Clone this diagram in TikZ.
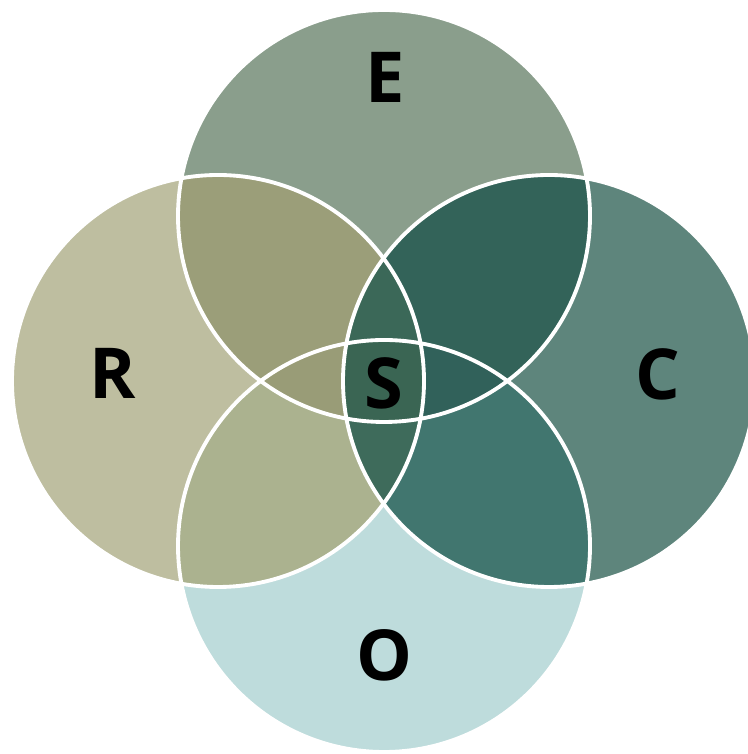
\documentclass[tikz,border=0pt]{standalone}
\usepackage{fontspec}
\setmainfont{Open Sans}
\definecolor{colE}{HTML}{8A9E8C}
\definecolor{colR}{HTML}{BEBEA0}
\definecolor{colC}{HTML}{5E857C}
\definecolor{colO}{HTML}{BEDCDC}
\definecolor{colER}{HTML}{9B9E79}
\definecolor{colEC}{HTML}{336359}
\definecolor{colRO}{HTML}{ABB28F}
\definecolor{colCO}{HTML}{41766F}
\definecolor{colERC}{HTML}{3B6858}
\definecolor{colRCO}{HTML}{3E6B5B}
\definecolor{colERO}{HTML}{999C77}
\definecolor{colECO}{HTML}{31615A}
\definecolor{colS}{HTML}{3A6553}

\begin{document}
\begin{tikzpicture}[
    ring/.style={draw=white, line width=1.1pt},
    lbl/.style={font=\fontsize{20}{24}\selectfont\bfseries, text=black}
  ]
    \useasboundingbox (0,0) rectangle (7.47,7.54);
    \def\rad{2.06}
    \coordinate (ce) at (3.84,5.38);
    \coordinate (co) at (3.84,2.08);
    \coordinate (cr) at (2.18,3.73);
    \coordinate (cc) at (5.49,3.73);

    % the four circles
    \fill[colE] (ce) circle (\rad);
    \fill[colR] (cr) circle (\rad);
    \fill[colC] (cc) circle (\rad);
    \fill[colO] (co) circle (\rad);

    % overlaps
    \begin{scope}
      \clip (ce) circle (\rad);
      \fill[colER] (cr) circle (\rad);
      \fill[colEC] (cc) circle (\rad);
    \end{scope}
    \begin{scope}
      \clip (co) circle (\rad);
      \fill[colRO] (cr) circle (\rad);
      \fill[colCO] (cc) circle (\rad);
    \end{scope}
    \begin{scope}
      \clip (cr) circle (\rad);
      \clip (cc) circle (\rad);
      \fill[colERC] (ce) circle (\rad);
      \fill[colRCO] (co) circle (\rad);
    \end{scope}
    \begin{scope}
      \clip (ce) circle (\rad);
      \clip (co) circle (\rad);
      \fill[colERO] (cr) circle (\rad);
      \fill[colECO] (cc) circle (\rad);
    \end{scope}
    \begin{scope}
      \clip (ce) circle (\rad);
      \clip (co) circle (\rad);
      \clip (cr) circle (\rad);
      \fill[colS] (cc) circle (\rad);
    \end{scope}

    \draw[ring] (ce) circle (\rad);
    \draw[ring] (cr) circle (\rad);
    \draw[ring] (cc) circle (\rad);
    \draw[ring] (co) circle (\rad);

    \node[lbl] (labE) at (3.85,6.77) {E};
    \node[lbl] (labR) at (1.13,3.81) {R};
    \node[lbl] (labC) at (6.58,3.80) {C};
    \node[lbl] (labO) at (3.84,0.99) {O};
    \node[lbl] (labS) at (3.84,3.71) {S};
  \end{tikzpicture}
\end{document}
